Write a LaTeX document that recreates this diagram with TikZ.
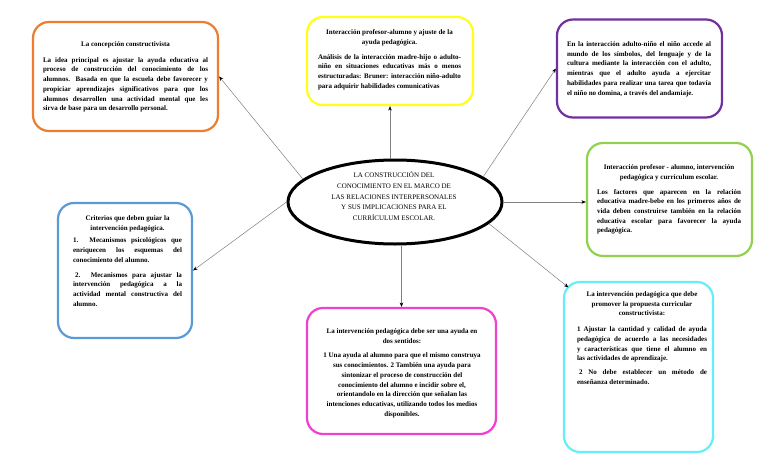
\documentclass[tikz,border=0pt]{standalone}
\usepackage{fontspec}
\setmainfont{Liberation Serif}
\usetikzlibrary{arrows.meta,shapes.geometric}
\newcommand{\J}[2]{\makebox[#1][s]{#2}}
\newcommand{\Lf}[2]{\makebox[#1][l]{#2}}
\definecolor{cOr}{HTML}{ED7D31}
\definecolor{cYe}{HTML}{FFFF1A}
\definecolor{cPu}{HTML}{7030A0}
\definecolor{cGr}{HTML}{92D050}
\definecolor{cBl}{HTML}{5B9BD5}
\definecolor{cMa}{HTML}{F040D0}
\definecolor{cCy}{HTML}{66EEFA}
\definecolor{cLn}{HTML}{808080}
\tikzset{
  box/.style={draw=#1, line width=2.2pt, rounded corners=16pt, fill=white, inner sep=0pt},
  txt/.style={font=\fontsize{7}{9.7}\selectfont\bfseries, align=center, inner sep=0pt, anchor=north},
  ctxt/.style={font=\fontsize{7}{10.7}\selectfont, align=center, inner sep=0pt, anchor=north},
  arr/.style={draw=cLn, line width=0.5pt, -{Stealth[length=4.5pt,width=3.5pt,color=black]}}
}
\begin{document}
\begin{tikzpicture}[x=1pt,y=-1pt]
\fill[white] (0,0) rectangle (768,466);
\useasboundingbox (0,0) rectangle (768,466);

% boxes
\node[box=cOr, minimum width=185pt, minimum height=109pt] (o1) at (125.5,76.5) {};
\node[box=cYe, minimum width=166pt, minimum height=88pt] (y1) at (390,61) {};
\node[box=cPu, minimum width=165pt, minimum height=98pt] (p1) at (639.5,68.5) {};
\node[box=cGr, minimum width=165pt, minimum height=113pt] (g1) at (669.5,199.5) {};
\node[box=cBl, minimum width=134pt, minimum height=135pt] (b1) at (125,270.5) {};
\node[box=cMa, minimum width=189pt, minimum height=126pt] (m1) at (401.5,371) {};
\node[box=cCy, minimum width=149pt, minimum height=170pt] (cy1) at (638.5,367) {};

% central ellipse
\node[draw, ellipse, line width=3pt, minimum width=214pt, minimum height=84pt, inner sep=0pt] (c) at (395,202) {};
\node[ctxt] (ct) at (394,171.5) {LA CONSTRUCCIÓN DEL\\CONOCIMIENTO EN EL MARCO DE\\LAS RELACIONES INTERPERSONALES\\Y SUS IMPLICACIONES PARA EL\\CURRÍCULUM ESCOLAR.};

% texts
\node[txt] (t1) at (125.5,41.5) {La concepción constructivista\\[6pt]
\J{165pt}{La idea principal es ajustar la ayuda educativa al}\\
\J{165pt}{proceso de construcción del conocimiento de los}\\
\J{165pt}{alumnos. Basada en que la escuela debe favorecer y}\\
\J{165pt}{propiciar aprendizajes significativos para que los}\\
\J{165pt}{alumnos desarrollen una actividad mental que les}\\
\Lf{165pt}{sirva de base para un desarrollo personal.}};

\node[txt] (t2) at (389.5,29.5) {Interacción profesor-alumno y ajuste de la\\ayuda pedagógica.\\[5pt]
\J{143pt}{Análisis de la interacción madre-hijo o adulto-}\\
\J{143pt}{niño en situaciones educativas más o menos}\\
\J{143pt}{estructuradas: Bruner: interacción niño-adulto}\\
\Lf{143pt}{para adquirir habilidades comunicativas}};

\node[txt] (t3) at (639,41.5) {\J{144pt}{En la interacción adulto-niño el niño accede al}\\
\J{144pt}{mundo de los símbolos, del lenguaje y de la}\\
\J{144pt}{cultura mediante la interacción con el adulto,}\\
\J{144pt}{mientras que el adulto ayuda a ejercitar}\\
\J{144pt}{habilidades para realizar una tarea que todavía}\\
\Lf{144pt}{el niño no domina, a través del andamiaje.}};

\node[txt] (t4) at (669,164.5) {Interacción profesor - alumno, intervención\\pedagógica y currículum escolar.\\[5pt]
\J{144pt}{Los factores que aparecen en la relación}\\
\J{144pt}{educativa madre-bebe en los primeros años de}\\
\J{144pt}{vida deben construirse también en la relación}\\
\J{144pt}{educativa escolar para favorecer la ayuda}\\
\Lf{144pt}{pedagógica.}};

\node[txt] (t5) at (127.5,215.5) {Criterios que deben guiar la\\intervención pedagógica.\\[3pt]
\J{109pt}{1. Mecanismos psicológicos que}\\
\J{109pt}{enriquecen los esquemas del}\\
\Lf{109pt}{conocimiento del alumno.}\\[5pt]
\J{109pt}{\hspace{2pt}2. Mecanismos para ajustar la}\\
\J{109pt}{intervención pedagógica a la}\\
\J{109pt}{actividad mental constructiva del}\\
\Lf{109pt}{alumno.}};

\node[txt] (t6) at (402,328.5) {La intervención pedagógica debe ser una ayuda en\\dos sentidos:\\[5pt]
1 Una ayuda al alumno para que el mismo construya\\
sus conocimientos. 2 También una ayuda para\\
sintonizar el proceso de construcción del\\
conocimiento del alumno e incidir sobre el,\\
orientandolo en la dirección que señalan las\\
intenciones educativas, utilizando todos los medios\\
disponibles.};

\node[txt] (t7) at (642,291.5) {La intervención pedagógica que debe\\promover la propuesta curricular\\constructivista:\\[6pt]
\J{130pt}{1 Ajustar la cantidad y calidad de ayuda}\\
\J{130pt}{pedagógica de acuerdo a las necesidades}\\
\J{130pt}{y características que tiene el alumno en}\\
\Lf{130pt}{las actividades de aprendizaje.}\\[4pt]
\J{130pt}{\hspace{2pt}2 No debe establecer un método de}\\
\Lf{130pt}{enseñanza determinado.}};

% connectors
\draw[arr] (c.166) -- (o1.east);
\draw[arr] (c.north -| y1.south) -- (y1.south);
\draw[arr] (c.16) -- (p1.west);
\draw[arr] (c.east) -- (g1.west |- c.east);
\draw[arr] (c.west) -- (b1.east);
\draw[arr] (c.south -| m1.north) -- (m1.north);
\draw[arr, shorten >=-7pt] (c.-13) -- (cy1.132);
\end{tikzpicture}
\end{document}
